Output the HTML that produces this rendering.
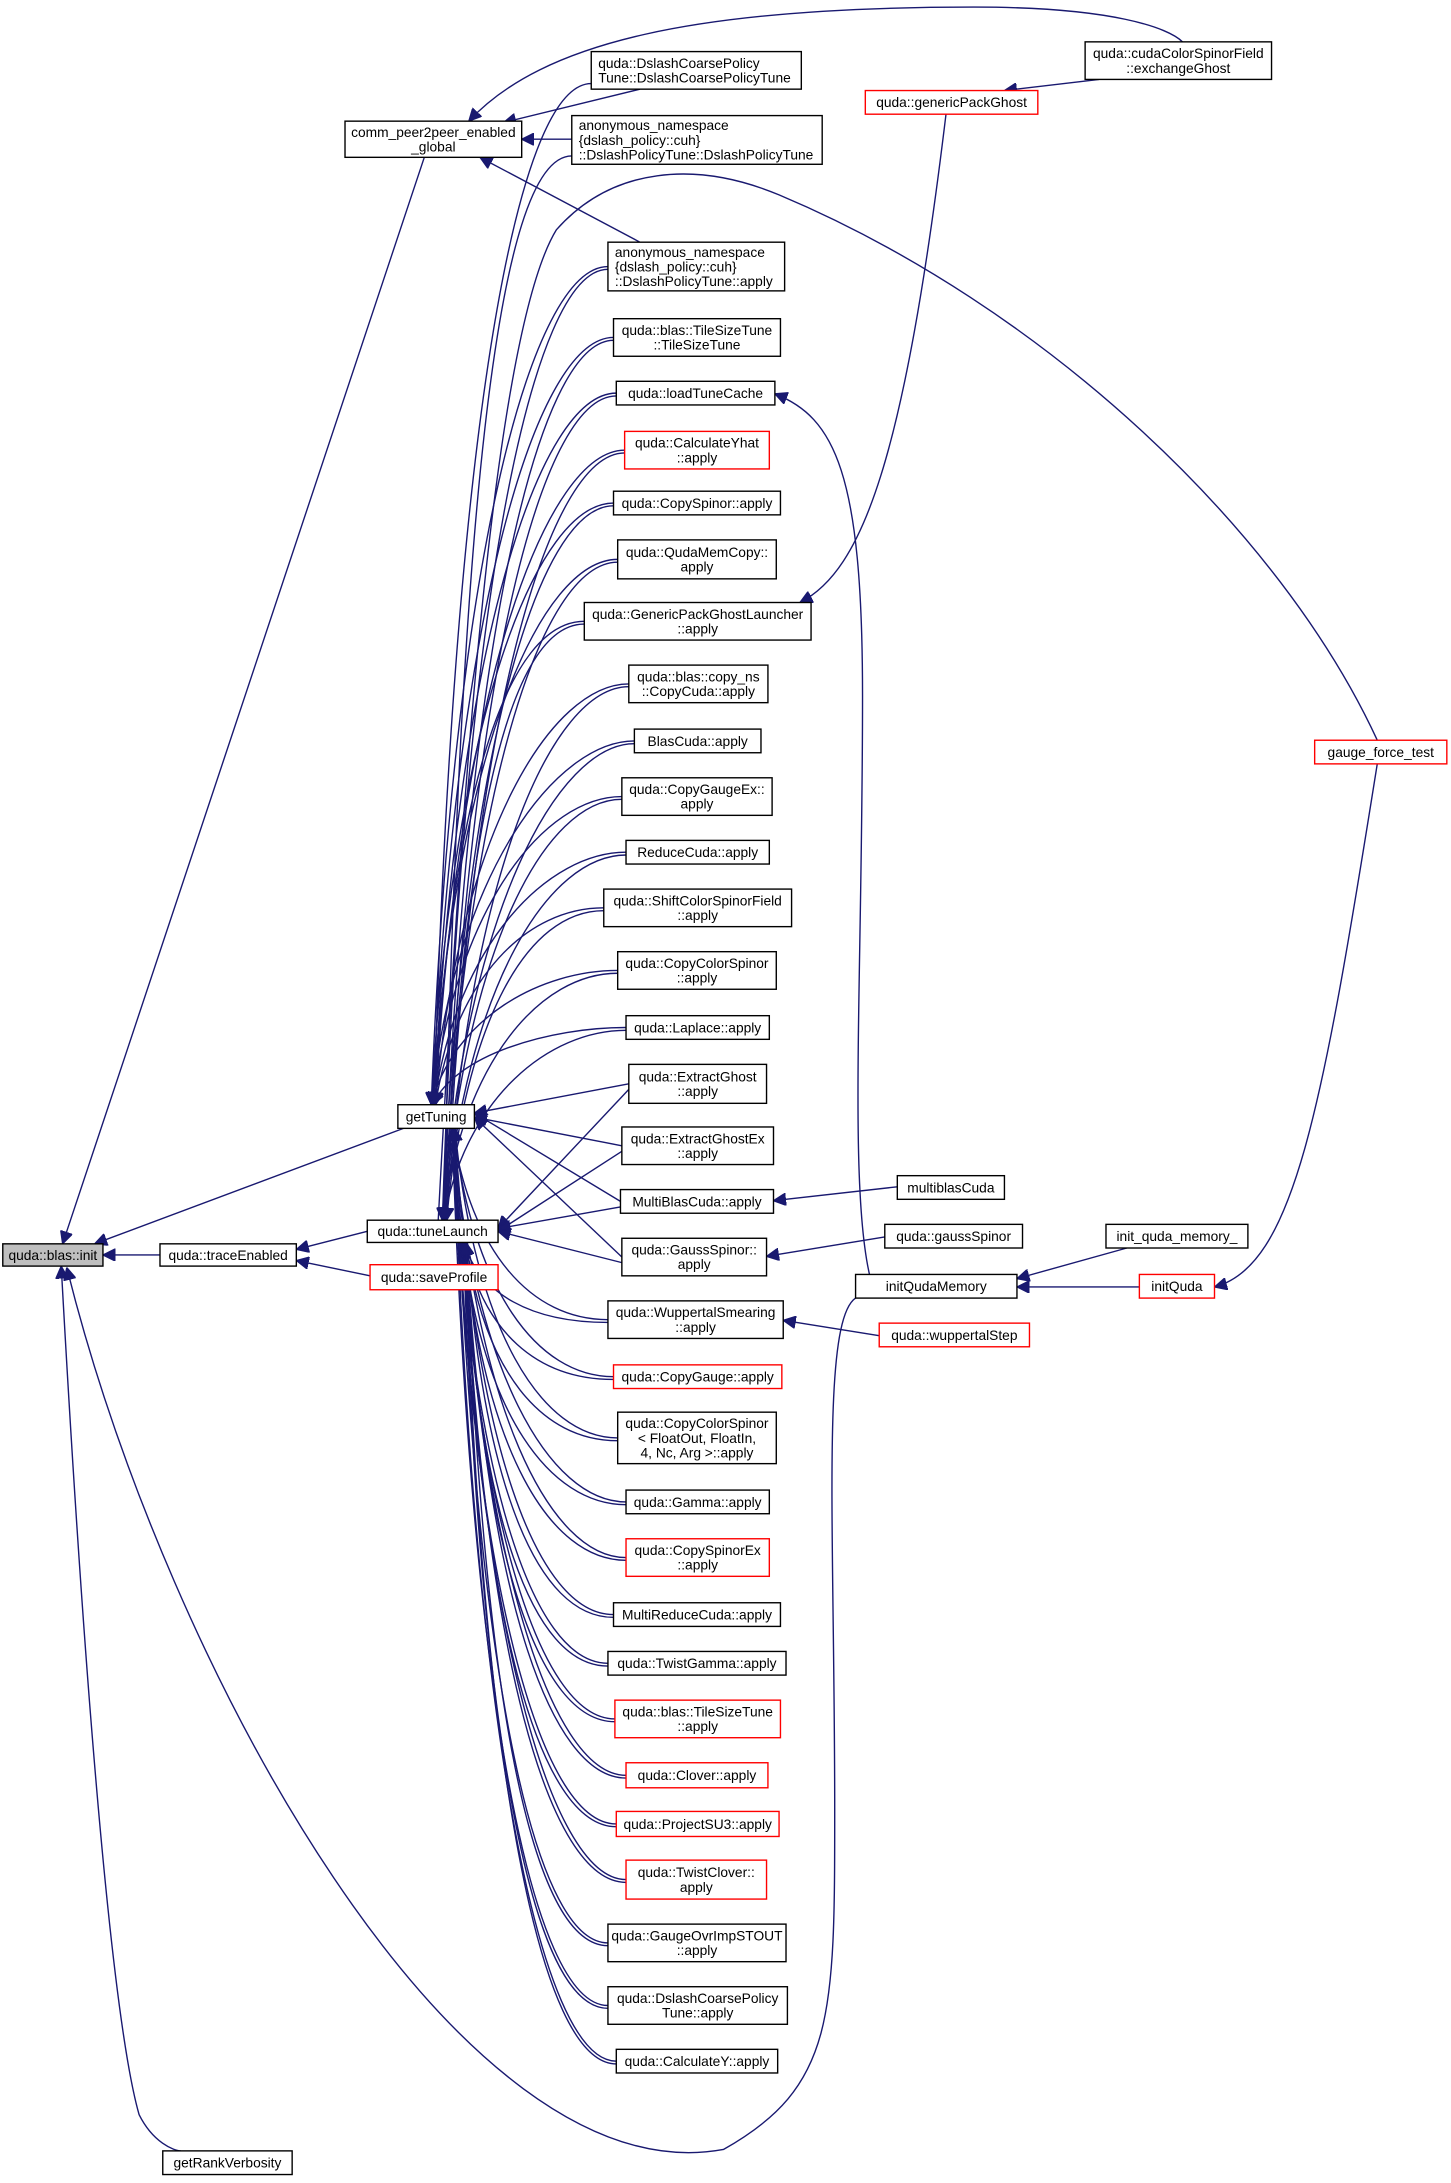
<!DOCTYPE html>
<html><head><meta charset="utf-8"><style>
html,body{margin:0;padding:0;background:#fff;}
svg{display:block;}
text{font-family:"Liberation Sans",Arial,sans-serif;font-size:9.9px;fill:#000;text-anchor:middle;}
.n{fill:#fff;stroke:#000;stroke-width:1;}
.r{fill:#fff;stroke:#f00;stroke-width:1;}
.g{fill:#bfbfbf;stroke:#000;stroke-width:1;}
path.e{fill:none;stroke:#191970;stroke-width:1;}
</style></head><body>
<svg id="s" width="1451" height="2183" viewBox="0 0 1043 1569" xmlns="http://www.w3.org/2000/svg">
<defs><marker id="a" viewBox="0 0 10 10" refX="10" refY="5" markerWidth="9" markerHeight="9" markerUnits="userSpaceOnUse" orient="auto-start-reverse"><path d="M0,0 L10,5 L0,10 z" fill="#191970" stroke="#191970"/></marker></defs>
<g id="edges">
<path class="e" marker-start="url(#a)" d="M74 902 L115 902"/>
<path class="e" marker-start="url(#a)" d="M68 894 L290 811"/>
<path class="e" marker-start="url(#a)" d="M45 894 L305 113"/>
<path class="e" marker-start="url(#a)" d="M44 910 C60 1200 80 1450 100 1520 C110 1540 125 1546 130 1546"/>
<path class="e" marker-start="url(#a)" d="M48 911 C120 1200 330 1580 520 1545 C600 1500 600 1450 600 1300 C600 1100 590 950 615 933"/>
<path class="e" marker-start="url(#a)" d="M213 898 L264 885"/>
<path class="e" marker-start="url(#a)" d="M213 906 L266 917"/>
<path class="e" marker-start="url(#a)" d="M362 88 L460 64"/>
<path class="e" marker-start="url(#a)" d="M375 100 L411 100"/>
<path class="e" marker-start="url(#a)" d="M345 113 L460 174"/>
<path class="e" marker-start="url(#a)" d="M337 87 C390 30 500 5 700 5 C800 5 840 20 850 30"/>
<path class="e" marker-start="url(#a)" d="M722 65 L790 57"/>
<path class="e" marker-start="url(#a)" d="M575 433 C620 410 650 330 680 82"/>
<path class="e" d="M315 877 C335 500 360 230 400 165 C440 120 500 115 560 140 C750 220 920 380 990 532"/>
<path class="e" marker-start="url(#a)" d="M557 283 C600 300 620 340 620 500 C620 700 610 850 625 916"/>
<path class="e" marker-start="url(#a)" d="M873 925 C930 910 950 800 990 549"/>
<path class="e" marker-start="url(#a)" d="M556 863 L645 853"/>
<path class="e" marker-start="url(#a)" d="M551 903 L636 889"/>
<path class="e" marker-start="url(#a)" d="M563 949 L632 960"/>
<path class="e" marker-start="url(#a)" d="M731 919 L810 897"/>
<path class="e" marker-start="url(#a)" d="M731 925 L819 925"/>
</g>
<g id="nodes"></g>
</svg>
<script>
var N=[
["quda::blas::init",2,894,74,910,"g"],
["quda::traceEnabled",115,894,213,910],
["getTuning",286,794,341,811],
["quda::tuneLaunch",264,877,358,893],
["quda::saveProfile",266,909,358,927,"r"],
["getRankVerbosity",117,1546,210,1563],
["comm_peer2peer_enabled|_global",248,87,375,113],
["quda::DslashCoarsePolicy|Tune::DslashCoarsePolicyTune",425,37,576,64,"n","L"],
["anonymous_namespace|{dslash_policy::cuh}|::DslashPolicyTune::DslashPolicyTune",411,83,591,118,"n","L"],
["quda::genericPackGhost",622,65,746,82,"r"],
["quda::cudaColorSpinorField|::exchangeGhost",780,30,914,57],
["gauge_force_test",945,532,1040,549,"r"],
["multiblasCuda",645,845,722,862],
["quda::gaussSpinor",636,880,735,897],
["initQudaMemory",615,916,731,933],
["quda::wuppertalStep",632,951,740,968,"r"],
["init_quda_memory_",795,880,897,897],
["initQuda",819,916,873,933,"r"]
];
var R=[
["anonymous_namespace|{dslash_policy::cuh}|::DslashPolicyTune::apply",437,174,564,209,"n","L"],
["quda::blas::TileSizeTune|::TileSizeTune",441,229,561,256],
["quda::loadTuneCache",443,274,557,291],
["quda::CalculateYhat|::apply",449,310,553,337,"r"],
["quda::CopySpinor::apply",441,353,561,370],
["quda::QudaMemCopy::|apply",444,388,558,416],
["quda::GenericPackGhostLauncher|::apply",420,433,583,460],
["quda::blas::copy_ns|::CopyCuda::apply",452,478,552,505],
["BlasCuda::apply",456,524,547,541],
["quda::CopyGaugeEx::|apply",447,559,555,586],
["ReduceCuda::apply",450,604,553,621],
["quda::ShiftColorSpinorField|::apply",434,639,569,666],
["quda::CopyColorSpinor|::apply",444,684,558,711],
["quda::Laplace::apply",450,730,553,747],
["quda::ExtractGhost|::apply",452,765,551,793,"n","",1],
["quda::ExtractGhostEx|::apply",447,810,556,837,"n","",1],
["MultiBlasCuda::apply",446,855,556,872,"n","",1],
["quda::GaussSpinor::|apply",447,890,551,917,"n","",1],
["quda::WuppertalSmearing|::apply",437,935,563,962],
["quda::CopyGauge::apply",441,981,562,998,"r"],
["quda::CopyColorSpinor|< FloatOut, FloatIn,|4, Nc, Arg >::apply",444,1015,558,1052],
["quda::Gamma::apply",450,1071,553,1088],
["quda::CopySpinorEx|::apply",450,1106,553,1133,"r"],
["MultiReduceCuda::apply",441,1152,561,1169],
["quda::TwistGamma::apply",437,1187,565,1204],
["quda::blas::TileSizeTune|::apply",442,1222,561,1249,"r"],
["quda::Clover::apply",450,1267,552,1285,"r"],
["quda::ProjectSU3::apply",443,1302,560,1320,"r"],
["quda::TwistClover::|apply",450,1337,551,1365,"r"],
["quda::GaugeOvrImpSTOUT|::apply",437,1383,565,1410],
["quda::DslashCoarsePolicy|Tune::apply",437,1428,566,1455],
["quda::CalculateY::apply",443,1473,559,1490]
];
var NS="http://www.w3.org/2000/svg";
var E=document.getElementById("edges"),G=document.getElementById("nodes");
function p(d,m){var e=document.createElementNS(NS,"path");e.setAttribute("class","e");e.setAttribute("d",d);if(m)e.setAttribute("marker-start","url(#a)");E.appendChild(e);}
function curve(tx,ty,L,ym){var c1x=tx+0.12*(L-tx),c1y=ty+0.65*(ym-ty);return "M"+tx+" "+ty+" C"+c1x+" "+c1y+" "+(L-55)+" "+ym+" "+L+" "+ym;}
R.forEach(function(n,i){var L=n[1],ym=(n[2]+n[4])/2;
 if(n[7]){p("M341 "+(800+i%2*3)+" L"+L+" "+ym,1);p("M358 "+(883+i%2*2)+" L"+L+" "+(ym+4),1);return;}
 if(ym<794){p(curve(310+(i%4),794,L,ym),1);p(curve(318+(i%4),877,L,ym+2),1);}
 else{p(curve(325+(i%3),811,L,ym),1);p(curve(333+(i%3),893,L,ym+2),1);}
});
p(curve(312,794,425,60),1);p(curve(319,877,411,112),1);
function box(n){var x1=n[1],y1=n[2],x2=n[3],y2=n[4],c=n[5]||"n";
 var r=document.createElementNS(NS,"rect");r.setAttribute("x",x1);r.setAttribute("y",y1);r.setAttribute("width",x2-x1);r.setAttribute("height",y2-y1);r.setAttribute("class",c);G.appendChild(r);
 var lines=n[0].split("|"),lh=10.5,start=(y1+y2)/2-(lines.length-1)*lh/2+3.5;
 lines.forEach(function(s,k){var t=document.createElementNS(NS,"text");
  if(n[6]==="L"){t.setAttribute("x",x1+5);t.style.textAnchor="start";}else t.setAttribute("x",(x1+x2)/2);
  t.setAttribute("y",start+k*lh);t.textContent=s;G.appendChild(t);});}
N.forEach(box);R.forEach(box);
</script>
</body></html>
